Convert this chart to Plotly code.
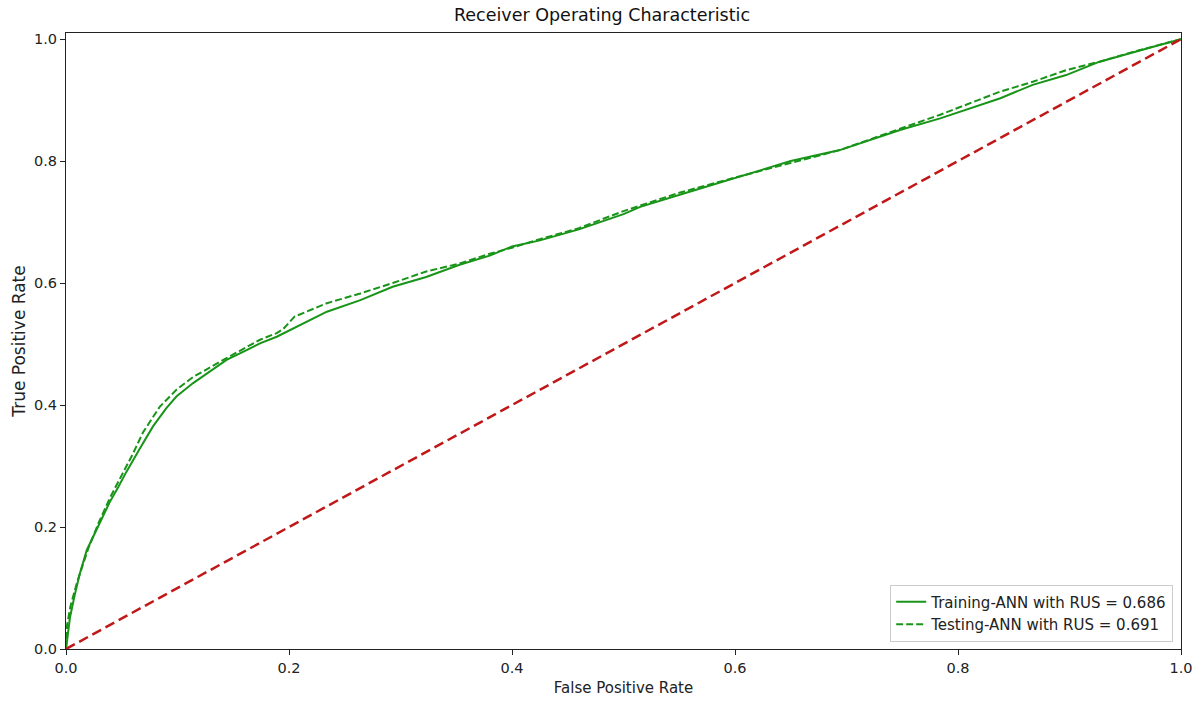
import plotly.graph_objects as go

train_fpr = [0, 0.002, 0.0036, 0.008, 0.0126, 0.0186, 0.023, 0.0305, 0.039, 0.047, 0.054, 0.066,
             0.078, 0.09, 0.099, 0.114, 0.129, 0.144, 0.162, 0.174, 0.189, 0.204, 0.234, 0.264,
             0.293, 0.323, 0.353, 0.38, 0.40, 0.425, 0.46, 0.50, 0.515, 0.56, 0.604, 0.65, 0.694, 0.748,
             0.784, 0.838, 0.867, 0.897, 0.927, 0.957, 0.98, 1.0]
train_tpr = [0, 0.03, 0.052, 0.09, 0.125, 0.162, 0.179, 0.206, 0.240, 0.266, 0.290, 0.328,
             0.365, 0.395, 0.414, 0.436, 0.455, 0.474, 0.49, 0.501, 0.512, 0.526, 0.553, 0.572,
             0.594, 0.610, 0.630, 0.645, 0.660, 0.670, 0.688, 0.713, 0.725, 0.75, 0.774, 0.80, 0.818, 0.851,
             0.870, 0.903, 0.925, 0.941, 0.963, 0.979, 0.99, 1.0]

test_fpr = [0, 0.001, 0.004, 0.01, 0.02, 0.03, 0.04, 0.05, 0.06, 0.069, 0.084, 0.099, 0.114, 0.144,
            0.174, 0.189, 0.195, 0.205, 0.234, 0.264, 0.293, 0.323, 0.353, 0.38, 0.40, 0.425, 0.46,
            0.50, 0.55, 0.60, 0.65, 0.694, 0.748, 0.784, 0.838, 0.867, 0.897, 0.927, 0.957, 0.98, 1.0]
test_tpr = [0, 0.04, 0.07, 0.11, 0.165, 0.21, 0.25, 0.285, 0.32, 0.355, 0.397, 0.425, 0.446, 0.477,
            0.507, 0.518, 0.525, 0.545, 0.567, 0.583, 0.600, 0.619, 0.632, 0.648, 0.658, 0.672, 0.690,
            0.718, 0.748, 0.773, 0.797, 0.818, 0.853, 0.876, 0.914, 0.930, 0.949, 0.963, 0.979, 0.99, 1.0]

diag = [0, 1]
tick_vals = [0, 0.2, 0.4, 0.6, 0.8, 1.0]
tick_text = ["0.0", "0.2", "0.4", "0.6", "0.8", "1.0"]

GREEN = "#189418"
RED = "#c01818"
FONT = "DejaVu Sans"

fig = go.Figure()
fig.add_trace(go.Scatter(x=train_fpr, y=train_tpr, mode="lines",
                         line=dict(color=GREEN, width=2),
                         name="Training-ANN with RUS = 0.686"))
fig.add_trace(go.Scatter(x=test_fpr, y=test_tpr, mode="lines",
                         line=dict(color=GREEN, width=2, dash="7px,3px"),
                         name="Testing-ANN with RUS = 0.691"))
fig.add_trace(go.Scatter(x=diag, y=diag, mode="lines",
                         line=dict(color=RED, width=2.5, dash="10px,5px"),
                         showlegend=False))

axis_common = dict(
    tickvals=tick_vals, ticktext=tick_text, ticks="outside", ticklen=5, tickwidth=1,
    tickcolor="#222", showline=True, linecolor="#222", linewidth=1.2, mirror=True,
    showgrid=False, zeroline=False, tickfont=dict(family=FONT, size=14.5, color="#222"),
)

fig.update_layout(
    width=1204, height=706,
    margin=dict(l=66, r=23, t=33, b=57),
    paper_bgcolor="white", plot_bgcolor="white",
    title=dict(text="Receiver Operating Characteristic", x=0.5, xanchor="center",
               y=0.988, yanchor="top", font=dict(family=FONT, size=17.5, color="#111")),
    xaxis=dict(range=[0, 1], title=dict(text="False Positive Rate", font=dict(family=FONT, size=15, color="#222"), standoff=7),
               **axis_common),
    yaxis=dict(range=[0, 1.01], title=dict(text="True Positive Rate", font=dict(family=FONT, size=17, color="#222"), standoff=3),
               **axis_common),
    legend=dict(x=0.993, y=0.012, xanchor="right", yanchor="bottom",
                bgcolor="rgba(255,255,255,0.8)", bordercolor="#ccc", borderwidth=1,
                font=dict(family=FONT, size=15, color="#222"), itemwidth=30,
                tracegroupgap=2),
    showlegend=True,
)

fig.write_html("out.html")
